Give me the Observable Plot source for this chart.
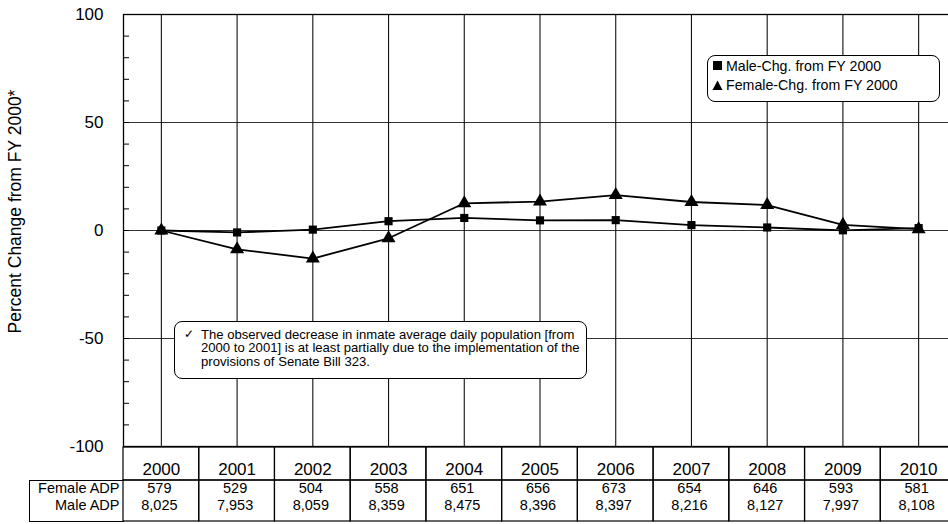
<!DOCTYPE html>
<html><head><meta charset="utf-8">
<script src="https://cdn.jsdelivr.net/npm/d3@7"></script>
<script src="https://cdn.jsdelivr.net/npm/@observablehq/plot@0.6"></script>
<style>
html,body{margin:0;padding:0;background:#fff;}
#chart{position:relative;width:948px;height:524px;overflow:hidden;font-family:Arial,"Liberation Sans",sans-serif;color:#000;}
#chart svg{display:block;}
.layer{position:absolute;left:0;}
.box{position:absolute;background:#fff;border:1.5px solid #000;border-radius:8px;box-sizing:border-box;}
.legrow{display:flex;align-items:center;height:19.5px;font-size:14.2px;white-space:nowrap;}
.legrow svg{margin-left:4px;margin-right:3px;}
.note{font-size:13.1px;line-height:13.5px;white-space:nowrap;padding-top:5.5px;padding-left:26px;position:relative;}
.note .chk{position:absolute;left:9px;top:5.5px;font-size:12px;}
.lbox{position:absolute;border:1.3px solid #000;border-right:none;box-sizing:border-box;}
</style></head>
<body><div id="chart"></div>
<script>
const years = [2000, 2001, 2002, 2003, 2004, 2005, 2006, 2007, 2008, 2009, 2010];
const maleChange = [0, -0.9, 0.4, 4.3, 5.8, 4.7, 4.8, 2.5, 1.4, 0.1, 1.1];
const femaleChange = [0, -8.7, -13.0, -3.6, 12.6, 13.4, 16.4, 13.2, 11.8, 2.6, 0.6];
const femaleADP = [579, 529, 504, 558, 651, 656, 673, 654, 646, 593, 581];
const maleADP = [8025, 7953, 8059, 8359, 8475, 8396, 8397, 8216, 8127, 7997, 8108];
const yMajorTicks = [-100, -50, 0, 50, 100];
const yMinorTicks = [-100, -90, -80, -70, -60, -50, -40, -30, -20, -10, 0, 10, 20, 30, 40, 50, 60, 70, 80, 90, 100];
const yGridValues = [-50, 0, 50];
const rowLabels = ["Female ADP", "Male ADP"];
const seriesLabels = ["Male-Chg. from FY 2000", "Female-Chg. from FY 2000"];
const yTitle = "Percent Change from FY 2000*";
const noteLines = [
  "The observed decrease in inmate average daily population [from",
  "2000 to 2001] is at least partially due to the implementation of the",
  "provisions of Senate Bill 323."
];

const font = "Arial, 'Liberation Sans', sans-serif";
const male = years.map((year, i) => ({year, value: maleChange[i]}));
const female = years.map((year, i) => ({year, value: femaleChange[i]}));
const tableRows = [
  ...years.map((year, i) => ({year, row: rowLabels[0], value: femaleADP[i]})),
  ...years.map((year, i) => ({year, row: rowLabels[1], value: maleADP[i]}))
];
const xScale = {type: "band", domain: years, padding: 0, round: false, axis: null};
const chart = document.getElementById("chart");

const main = Plot.plot({
  width: 948, height: 524,
  marginTop: 14, marginBottom: 78, marginLeft: 123, marginRight: -8,
  style: {fontFamily: font, background: "white", color: "#000"},
  x: xScale,
  y: {domain: [-100, 100]},
  marks: [
    Plot.ruleY(yGridValues, {stroke: "#333", strokeWidth: 1}),
    Plot.ruleX(years, {x: d => d, stroke: "#111", strokeWidth: 1.1}),
    Plot.frame({stroke: "#000", strokeWidth: 1.3}),
    Plot.axisY({ticks: yMinorTicks, tickSize: -6, text: null, stroke: "#000", label: null}),
    Plot.axisY({ticks: yMajorTicks, tickSize: 0, tickPadding: 20, fontSize: 17, label: null, tickFormat: d => String(d)}),
    Plot.text([yTitle], {text: d => d, frameAnchor: "left", textAnchor: "middle", rotate: -90, dx: -108, dy: -19, fontSize: 17.5}),
    Plot.line(male, {x: "year", y: "value", stroke: "#000", strokeWidth: 1.8}),
    Plot.line(female, {x: "year", y: "value", stroke: "#000", strokeWidth: 1.8}),
    Plot.dot(male, {x: "year", y: "value", symbol: "square", fill: "#000", r: 4.6}),
    Plot.dot(female, {x: "year", y: "value", symbol: "triangle", fill: "#000", r: 5.2})
  ]
});
main.classList.add("layer");
main.style.top = "0px";
chart.appendChild(main);

const header = Plot.plot({
  width: 948, height: 35,
  marginTop: 1, marginBottom: 1, marginLeft: 123, marginRight: -8,
  style: {fontFamily: font, background: "transparent", color: "#000"},
  x: xScale,
  marks: [
    Plot.cell(years, {x: d => d, stroke: "#000", strokeWidth: 1.2, fill: "none"}),
    Plot.text(years, {x: d => d, text: d => String(d), fontSize: 17, dy: 5.5})
  ]
});
header.classList.add("layer");
header.style.top = "446px";
chart.appendChild(header);

const fmt = d3.format(",");
const data = Plot.plot({
  width: 948, height: 43,
  marginTop: 1, marginBottom: 1, marginLeft: 123, marginRight: -8,
  style: {fontFamily: font, background: "transparent", color: "#000"},
  x: xScale,
  y: {type: "point", domain: rowLabels, range: [9, 26], padding: 0},
  marks: [
    Plot.cell(years, {x: d => d, stroke: "#000", strokeWidth: 1.2, fill: "none"}),
    Plot.axisY({tickSize: 0, tickPadding: 4, fontSize: 14.5, label: null}),
    Plot.text(tableRows, {x: "year", y: "row", text: d => fmt(d.value), fontSize: 14.5, dx: -2})
  ]
});
data.classList.add("layer");
data.style.top = "479px";
chart.appendChild(data);

const lbox = document.createElement("div");
lbox.className = "lbox";
Object.assign(lbox.style, {left: "29px", top: "480px", width: "95px", height: "42px"});
chart.appendChild(lbox);

// legend
const legend = document.createElement("div");
legend.className = "box";
Object.assign(legend.style, {left: "707px", top: "55px", width: "233px", height: "47px"});
const symbols = [
  '<svg width="11" height="11"><rect x="1" y="1" width="9" height="9" fill="#000"/></svg>',
  '<svg width="11" height="11"><path d="M5.5 0.5 L10.5 10 L0.5 10 Z" fill="#000"/></svg>'
];
legend.innerHTML = seriesLabels.map((s, i) => `<div class="legrow">${symbols[i]}<span>${s}</span></div>`).join("");
chart.appendChild(legend);

// note
const note = document.createElement("div");
note.className = "box";
Object.assign(note.style, {left: "174px", top: "321px", width: "413px", height: "58px"});
note.innerHTML = `<div class="note"><span class="chk">&#x2713;</span>${noteLines.join("<br>")}</div>`;
chart.appendChild(note);
</script>
</body></html>
